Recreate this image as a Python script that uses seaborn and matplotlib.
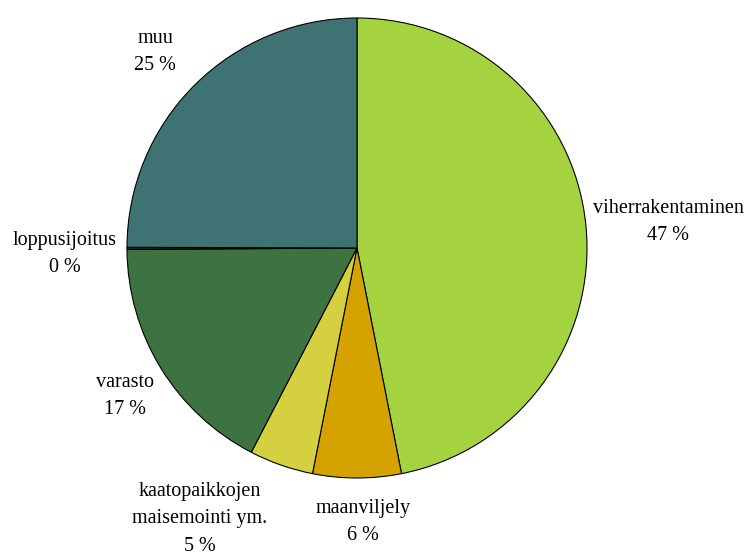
import matplotlib
matplotlib.use("Agg")
import matplotlib.pyplot as plt
import seaborn as sns

sns.set_theme(style="white")
plt.rcParams['font.family'] = ['Liberation Serif', 'DejaVu Serif']

categories = ["viherrakentaminen", "maanviljely", "kaatopaikkojen\nmaisemointi ym.",
              "varasto", "loppusijoitus", "muu"]
values = [46.9, 6.2, 4.5, 17.3, 0.15, 24.95]
pct_labels = ["47 %", "6 %", "5 %", "17 %", "0 %", "25 %"]
colors = ["#A5D23F", "#D4A300", "#D4D040", "#3C7340", "#222222", "#3F7373"]
label_pos = [(1.352, 0.113), (0.026, -1.19), (-0.683, -1.178),
             (-1.009, -0.643), (-1.27, -0.026), (-0.878, 0.852)]

fig = plt.figure(figsize=(7.46, 5.53), dpi=100)
cx, cy, r = 357, 248, 230
W, H = 746, 553
ax = fig.add_axes([(cx - r) / W, (H - cy - r) / H, 2 * r / W, 2 * r / H])
ax.pie(values, colors=colors, startangle=90, counterclock=False, radius=1,
       wedgeprops=dict(edgecolor="black", linewidth=0.8))
ax.set_xlim(-1, 1)
ax.set_ylim(-1, 1)
ax.set_aspect("auto")
ax.axis("off")

for cat, pct, (x, y) in zip(categories, pct_labels, label_pos):
    ax.text(x, y, f"{cat}\n{pct}", ha="center", va="center", fontsize=14.5,
            linespacing=1.6, color="black", clip_on=False)

fig.savefig("out.png", dpi=100, facecolor="white")
